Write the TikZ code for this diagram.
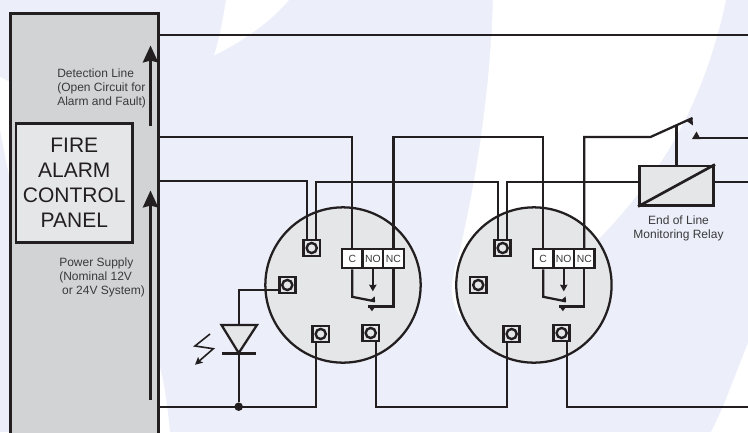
\documentclass[tikz,border=0pt]{standalone}
\usepackage{fontspec}
\setmainfont{Liberation Sans}
\usetikzlibrary{arrows.meta,positioning}
\definecolor{ink}{HTML}{231F20}
\definecolor{script}{HTML}{3A3A3C}
\definecolor{wash}{HTML}{ECEFF9}
\definecolor{panelgrey}{HTML}{D1D3D4}
\definecolor{lightgrey}{HTML}{E5E6E8}
\tikzset{panel/.style={rectangle,draw=ink,fill=panelgrey,line width=1.9pt,minimum width=111pt,minimum height=330pt,anchor=north west}}
\tikzset{title/.style={rectangle,draw=ink,fill=lightgrey,line width=1.8pt,minimum width=87.5pt,minimum height=89.5pt,text=ink,align=center,font=\fontsize{15.75pt}{18.75pt}\selectfont}}
\tikzset{note/.style={text=script,inner sep=0pt,font=\fontsize{9pt}{10.5pt}\selectfont}}
\tikzset{detector/.style={circle,draw=ink,fill=lightgrey,line width=1.7pt,minimum size=116.5pt,inner sep=0pt}}
\tikzset{terminal/.style={rectangle,draw=ink,line width=2pt,minimum size=12.2pt,inner sep=0pt,path picture={\draw[ink,line width=1.8pt] (path picture bounding box.center) circle (3.8pt);}}}
\tikzset{cell/.style={rectangle,draw=ink,fill=white,line width=1.7pt,minimum width=15.4pt,minimum height=14.3pt,inner sep=0pt,text=script,font=\fontsize{7.8pt}{9pt}\selectfont}}
\tikzset{wire/.style={draw=ink,line width=1.7pt}}
\tikzset{bigArrow/.style={draw=ink,line width=1.9pt,-{Stealth[length=12.75pt,width=11.5pt,inset=1.5pt]}}}
\tikzset{noArrow/.style={wire,-{Stealth[length=5pt,width=5.5pt,inset=0.5pt]}}}
\begin{document}
\begin{tikzpicture}[x=0.75pt,y=-0.75pt]
\clip (0,0) rectangle (748,432);
% backdrop
\fill[wash] (0,0) rectangle (748,432);
\fill[white] (226,0) .. controls (222,25) and (219,40) .. (214,55.5) .. controls (245,40) and (270,22) .. (289,0) -- cycle;
\fill[white] (493,0) .. controls (490,90) and (478,170) .. (460,250) .. controls (453,275) and (446,295) .. (460,316) -- (598,240) .. controls (650,185) and (700,120) .. (726,0) -- cycle;
\fill[white] (0,77) -- (10,82) -- (10,180) -- (0,130) -- cycle;
\fill[white] (158,360) .. controls (165,385) and (168,410) .. (170,432) -- (158,432) -- cycle;
\fill[white] (748,343) .. controls (735,375) and (725,405) .. (711,432) -- (748,432) -- cycle;
% ends of the loops on the right hand side
\coordinate (lineA) at (748,35);
\coordinate (lineB) at (748,137);
\coordinate (lineC) at (748,181);
\coordinate (lineD) at (748,182);
\coordinate (lineE) at (748,406.7);
\coordinate (lineF) at (748,138);
% panel
\node (panel) [panel] at (9.3,12) {};
\node (title) [title] at (74.3,183) {FIRE\\ALARM\\CONTROL\\PANEL};
\node (detnote) [note, align=left, anchor=west] at (57,88) {Detection Line\\(Open Circuit for\\Alarm and Fault)};
\node (pownote) [note, align=left, anchor=west] at (59,277) {Power Supply\\(Nominal 12V\\\hspace*{2.2pt}or 24V System)};
\coordinate (detstart) at (150.5,126);
\coordinate (detend) at (150.5,45.5);
\coordinate (powstart) at (150.5,400);
\coordinate (powend) at (150.5,190.5);
\draw[bigArrow] (detstart) -- (detend);
\draw[bigArrow] (powstart) -- (powend);
% detectors
\begin{scope}[node distance=25pt]
	\node (det1) [detector] at (343,285) {};
	\node (det2) [detector, right =of det1] {};
\end{scope}
\node (top1) [terminal] at ([shift={(-31.3,-37)}]det1.center) {};
\node (left1) [terminal] at ([shift={(-55.7,0)}]det1.center) {};
\node (low1) [terminal] at ([shift={(-22.3,49)}]det1.center) {};
\node (out1) [terminal] at ([shift={(27.7,48)}]det1.center) {};
\node (top2) [terminal] at ([shift={(-31.3,-37)}]det2.center) {};
\node (left2) [terminal] at ([shift={(-55.7,0)}]det2.center) {};
\node (low2) [terminal] at ([shift={(-22.3,49)}]det2.center) {};
\node (out2) [terminal] at ([shift={(27.7,48)}]det2.center) {};
\begin{scope}[node distance=-1.7pt]
	\node (c1) [cell] at ([shift={(9.3,-26.3)}]det1.center) {C};
	\node (no1) [cell, right =of c1] {NO};
	\node (nc1) [cell, right =of no1] {NC};
	\node (c2) [cell] at ([shift={(9.3,-26.3)}]det2.center) {C};
	\node (no2) [cell, right =of c2] {NO};
	\node (nc2) [cell, right =of no2] {NC};
\end{scope}
% changeover contacts
\coordinate (bend1) at ([yshift=-20.6pt]c1.south);
\coordinate (arm1) at ([shift={(22.7,4.5)}]bend1);
\coordinate (noend1) at ([yshift=-16.5pt]no1.south);
\coordinate (stop1) at ([yshift=-27.8pt]nc1.south);
\coordinate (stopend1) at ([xshift=-18.7pt]stop1);
\draw[wire] (c1.south) -- (bend1) -- (arm1);
\fill[ink] (arm1) -- ++(-0.3,-5) -- ++(-4.3,3.8) -- cycle;
\draw[noArrow] (no1.south) -- (noend1);
\draw[wire] (nc1.south) -- (stop1) -- (stopend1);
\fill[ink] (stopend1) -- ++(7,0) -- ++(-3.5,4.8) -- cycle;
\coordinate (bend2) at ([yshift=-20.6pt]c2.south);
\coordinate (arm2) at ([shift={(22.7,4.5)}]bend2);
\coordinate (noend2) at ([yshift=-16.5pt]no2.south);
\coordinate (stop2) at ([yshift=-27.8pt]nc2.south);
\coordinate (stopend2) at ([xshift=-18.7pt]stop2);
\draw[wire] (c2.south) -- (bend2) -- (arm2);
\fill[ink] (arm2) -- ++(-0.3,-5) -- ++(-4.3,3.8) -- cycle;
\draw[noArrow] (no2.south) -- (noend2);
\draw[wire] (nc2.south) -- (stop2) -- (stopend2);
\fill[ink] (stopend2) -- ++(7,0) -- ++(-3.5,4.8) -- cycle;
% end of line relay
\node (relay) [rectangle, draw=ink, fill=lightgrey, line width=2.2pt, minimum width=55.5pt, minimum height=29.3pt, inner sep=0pt] at (676.5,185.5) {};
\node (relaynote) [note, align=center, below =6.5pt of relay, xshift=1.5pt] {End of Line\\Monitoring Relay};
\draw[wire, line width=2pt] (relay.south west) -- (relay.north east);
\coordinate (swing) at (650.5,137);
\coordinate (swingend) at (692.5,118);
\coordinate (swingrod) at (677,125);
\coordinate (seat) at (694,138);
\draw[wire] (nc2.north) |- (swing) -- (swingend);
\fill[ink] (swingend) -- ++(0.5,7.5) -- ++(-7,-5) -- cycle;
\draw[wire] (relay.north) -- (relay.north |- swingrod);
\draw[wire] (seat) -- (lineF);
\fill[ink] ([shift={(-2,1)}]seat) -- ++(8.5,0) -- ++(-4,-7.5) -- cycle;
% loops
\draw[wire] (panel.east |- lineA) -- (lineA);
\draw[wire] (panel.east |- lineB) -| (c1.north);
\draw[wire] (nc1.north) |- (c2.north |- lineB) -- (c2.north);
\draw[wire] (panel.east |- lineC) -| ([xshift=-3.3pt]top1.north);
\draw[wire] ([xshift=3pt]top1.north) |- ([xshift=-3.3pt]top2.north |- lineD) -- ([xshift=-3.3pt]top2.north);
\draw[wire] ([xshift=3pt]top2.north) |- (relay.west |- lineD);
\draw[wire] (relay.east |- lineD) -- (lineD);
\draw[wire] (panel.east |- lineE) -| ([xshift=-3.5pt]low1.south);
\draw[wire] ([xshift=4pt]out1.south) |- ([xshift=-3.5pt]low2.south |- lineE) -- ([xshift=-3.5pt]low2.south);
\draw[wire] ([xshift=4pt]out2.south) |- (lineE);
% lamp
\coordinate (lampleft) at (221.5,325);
\coordinate (lampright) at (257,325);
\coordinate (lamptip) at (238.7,353);
\coordinate (lamptop) at (238.7,325);
\coordinate (barleft) at (222,353.5);
\coordinate (barright) at (256,353.5);
\node (join) [circle, fill=ink, minimum size=6.4pt, inner sep=0pt] at (238.7,406.7) {};
\draw[wire] ([yshift=-3.75pt]left1.west) -| (lamptop);
\draw[wire, fill=lightgrey] (lampleft) -- (lampright) -- (lamptip) -- cycle;
\draw[wire] (barleft) -- (barright);
\draw[wire] (lamptip) -- (join);
\draw[draw=ink, line width=1.2pt, -{Stealth[length=5.5pt,width=5.5pt,inset=1pt]}] (210,334) -- (195,346) -- (213.3,348.7) -- (195,364.7);
\end{tikzpicture}
\end{document}
